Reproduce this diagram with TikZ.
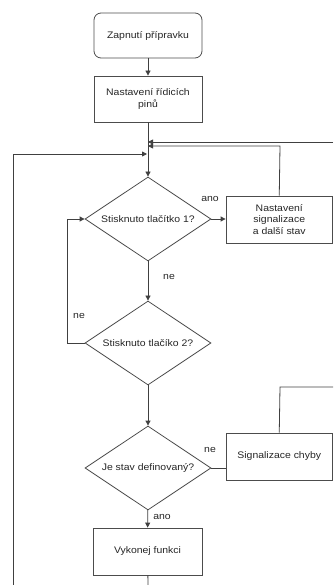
\documentclass[tikz,border=0pt]{standalone}
\usepackage{fontspec}
\setmainfont{Liberation Sans}[FakeStretch=1.1]
\usetikzlibrary{shapes.geometric,arrows.meta}
\begin{document}
\begin{tikzpicture}[x=1pt,y=-1pt,
  every node/.style={font=\fontsize{9.5}{11.5}\selectfont, text=black!85},
  box/.style={draw=black!70, line width=0.8pt, minimum width=108pt, minimum height=46pt, inner sep=2pt, align=center},
  dec/.style={draw=black!70, line width=0.8pt, shape=diamond, aspect=1.5, minimum width=126pt, minimum height=84pt, inner sep=0pt, align=center},
  conn/.style={draw=black!75, line width=0.8pt},
  arr/.style={conn, -{Triangle[length=5pt,width=5pt]}},
  lbl/.style={inner sep=0pt}]
\useasboundingbox (0,0) rectangle (333,585);
\node[box, rounded corners=7pt, minimum height=45pt] (start) at (148,35.5) {Zapnutí přípravku};
\node[box] (pins) at (148,99) {Nastavení řídicích\\pinů};
\node[dec] (d1) at (148,219) {Stisknuto tlačítko 1?};
\node[box, minimum width=106.5pt, minimum height=47pt] (sig) at (279.25,219.5) {Nastavení\\signalizace\\a další stav};
\node[dec] (d2) at (148,343) {Stisknuto tlačíko 2?};
\node[dec] (d3) at (148,468) {Je stav definovaný?};
\node[box, minimum width=106.5pt, minimum height=47pt] (err) at (279.25,456.5) {Signalizace chyby};
\node[box, minimum width=109pt, minimum height=47pt] (run) at (147.5,551.5) {Vykonej funkci};
\coordinate (j1) at (148,142);
\coordinate (j2) at (148,146);
\coordinate (j3) at (148,154);
\coordinate (eTop) at (333,142);
\coordinate (eErr) at (333,387);
\coordinate (eBot) at (148,585);
\coordinate (eLeft) at (13,585);
\node[lbl] (l1) at (210,199) {ano};
\node[lbl] (l2) at (169,277) {ne};
\node[lbl] (l3) at (79,316) {ne};
\node[lbl] (l4) at (210,450) {ne};
\node[lbl] (l5) at (162,517) {ano};
\draw[arr] (start) -- (pins);
\draw[arr] (pins) -- (d1);
\draw[arr] (eTop) -- (j1);
\draw[arr] (sig.north) -- (280,146) -- (j2);
\draw[arr] (eLeft) -- (13,154) -- ([xshift=-1pt]j3);
\draw[arr] (d1.east) -- (sig.west |- d1.east);
\draw[arr] (d1) -- (d2);
\draw[arr] (d2.west) -- (67,343) -- (67,219) -- (d1.west);
\draw[arr] (d2) -- (d3);
\draw[conn] (d3.east) -- (err.west |- d3.east);
\draw[conn] (err.north) -- (280,387) -- (eErr);
\draw[arr] (d3) -- (run);
\draw[conn] (run) -- (eBot);
\end{tikzpicture}
\end{document}
